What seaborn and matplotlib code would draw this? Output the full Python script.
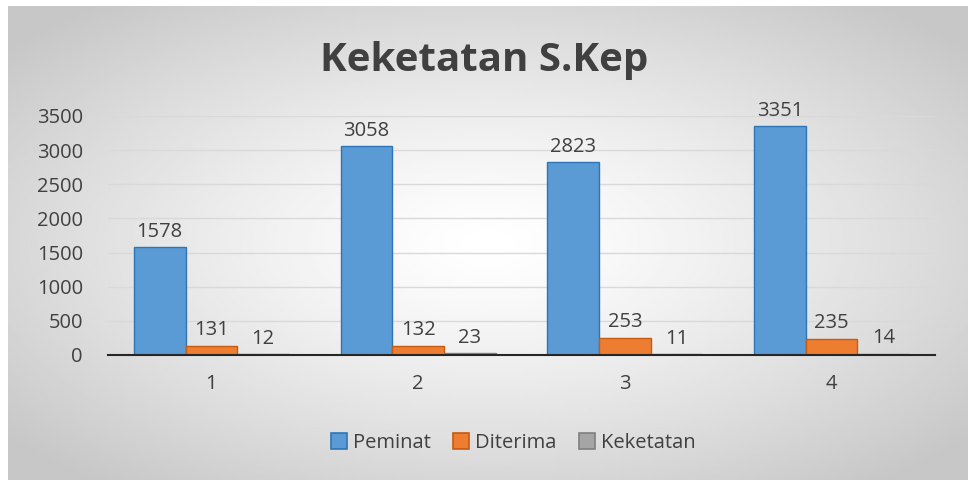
import matplotlib
matplotlib.use("Agg")
import matplotlib.pyplot as plt
import numpy as np
import pandas as pd
import seaborn as sns

groups = ["1", "2", "3", "4"]
peminat = [1578, 3058, 2823, 3351]
diterima = [131, 132, 253, 235]
keketatan = [12, 23, 11, 14]
series_names = ["Peminat", "Diterima", "Keketatan"]
colors = ["#5B9BD5", "#ED7D31", "#A5A5A5"]
edge_colors = ["#2E75B6", "#C55A11", "#7F7F7F"]
y_ticks = [0, 500, 1000, 1500, 2000, 2500, 3000, 3500]

df = pd.DataFrame({
    "group": groups * 3,
    "series": [s for s in series_names for _ in groups],
    "value": peminat + diterima + keketatan,
})

sns.set_theme(style="white")
plt.rcParams["font.family"] = ["Open Sans", "DejaVu Sans"]

fig = plt.figure(figsize=(9.68, 4.8), dpi=100)

# radial grey gradient background of the chart area
bg = fig.add_axes([8 / 968, 0, 960 / 968, 474 / 480], zorder=-5)
yy, xx = np.mgrid[-1:1:200j, -1:1:400j]
r = np.sqrt(xx ** 2 + yy ** 2)
bg.imshow(1 - 0.22 * np.clip(r / 1.3, 0, 1) ** 1.3, cmap="gray", vmin=0, vmax=1,
          aspect="auto", extent=[0, 1, 0, 1])
bg.axis("off")

ax = fig.add_axes([108 / 968, 125 / 480, 827 / 968, 239 / 480])
ax.set_facecolor("none")
sns.barplot(data=df, x="group", y="value", hue="series", palette=colors,
            width=0.75, saturation=1, ax=ax, legend=False)

for i, cont in enumerate(ax.containers):
    for bar in cont:
        bar.set_edgecolor(edge_colors[i])
        bar.set_linewidth(1.0)
    ax.bar_label(cont, fontsize=14.5, color="#404040", padding=4)

ax.set_ylim(0, 3500)
ax.set_yticks(y_ticks)
ax.set_xlabel("")
ax.set_ylabel("")
ax.grid(axis="y", color="#D9D9D9", linewidth=1)
ax.set_axisbelow(True)
for side in ["top", "right", "left"]:
    ax.spines[side].set_visible(False)
ax.spines["bottom"].set_color("#262626")
ax.spines["bottom"].set_linewidth(1.5)
ax.tick_params(axis="both", labelsize=14.5, colors="#404040", length=0)
ax.tick_params(axis="y", pad=18)
ax.tick_params(axis="x", pad=14)

fig.text(0.5, 0.875, "Keketatan S.Kep", ha="center", va="center",
         fontsize=29, fontweight="bold", color="#404040")

handles = [plt.Rectangle((0, 0), 1, 1, facecolor=c, edgecolor=e, linewidth=1.2)
           for c, e in zip(colors, edge_colors)]
fig.legend(handles, series_names, loc="center", bbox_to_anchor=(0.53, 0.077),
           ncol=3, frameon=False, fontsize=14.5, handlelength=0.8, handleheight=0.8,
           handletextpad=0.3, columnspacing=1.1, labelcolor="#404040")

fig.savefig("out.png", dpi=100)
